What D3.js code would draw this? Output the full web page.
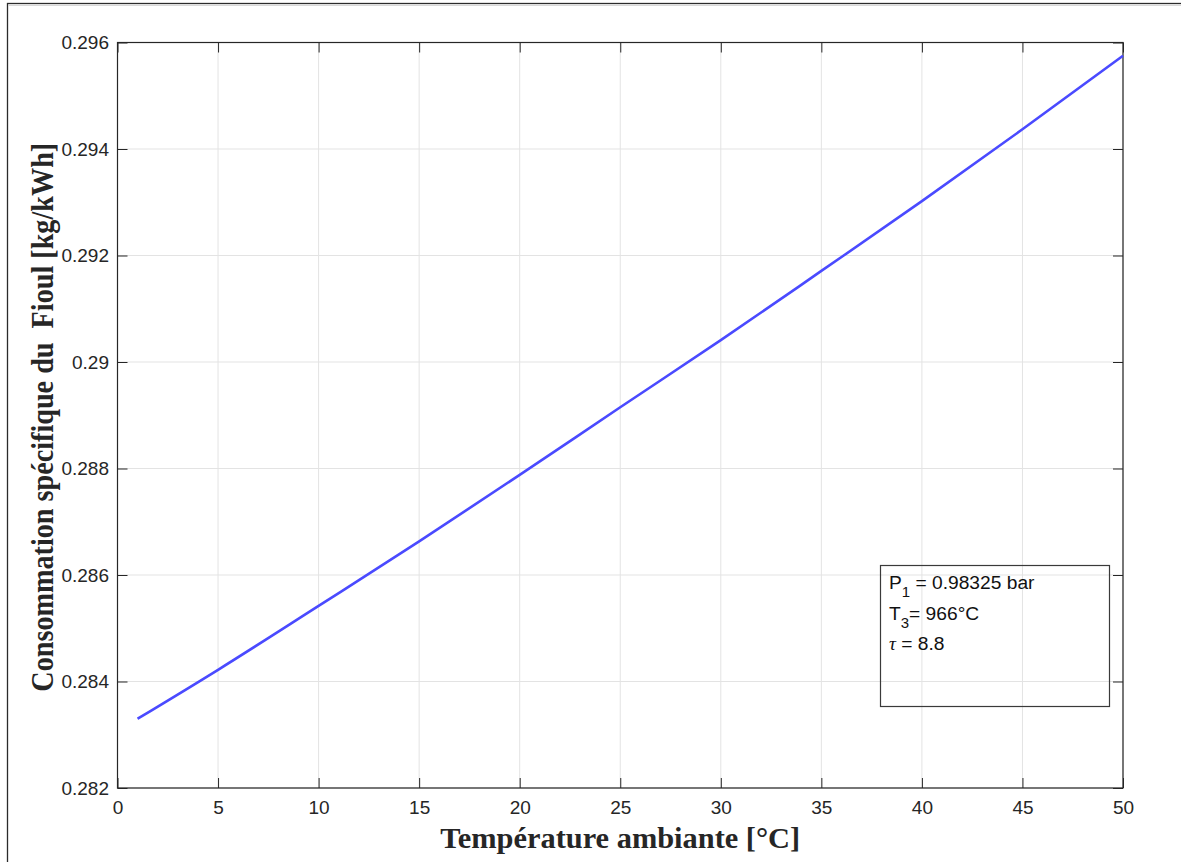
<!DOCTYPE html>
<html>
<head>
<meta charset="utf-8">
<script src="https://cdn.jsdelivr.net/npm/d3@7"></script>
<style>
  html, body { margin: 0; padding: 0; background: #fff; }
  svg { display: block; }
</style>
</head>
<body>
<svg id="chart" width="1181" height="862"></svg>
<script>
// Specific fuel consumption vs ambient temperature
const temperature = [1, 5, 10, 15, 20, 25, 30, 35, 40, 45, 50];
const consumption = [0.28330, 0.28422, 0.28542, 0.28663, 0.28788, 0.28915,
                     0.29041, 0.29171, 0.29302, 0.29437, 0.29575];

const xTicks = [0, 5, 10, 15, 20, 25, 30, 35, 40, 45, 50];
const xTickLabels = ["0", "5", "10", "15", "20", "25", "30", "35", "40", "45", "50"];
const yTicks = [0.282, 0.284, 0.286, 0.288, 0.290, 0.292, 0.294, 0.296];
const yTickLabels = ["0.282", "0.284", "0.286", "0.288", "0.29", "0.292", "0.294", "0.296"];

const xLabel = "Température ambiante [°C]";
const yLabel = "Consommation spécifique du\u00a0 Fioul [kg/kWh]";

const svg = d3.select("#chart");
const W = 1181, H = 862;

// figure frame
svg.append("rect")
  .attr("x", 7.5).attr("y", 3.5)
  .attr("width", W + 20).attr("height", H + 20)
  .attr("fill", "none").attr("stroke", "#2b2b2b").attr("stroke-width", 1.3);
svg.append("line")
  .attr("x1", 8).attr("x2", W).attr("y1", 5.5).attr("y2", 5.5)
  .attr("stroke", "#d8d8d8").attr("stroke-width", 1);

const L = 117.5, T = 42.5, R = 1123, B = 788;

const x = d3.scaleLinear().domain([0, 50]).range([L, R]);
const y = d3.scaleLinear().domain([0.282, 0.296]).range([B, T]);

const g = svg.append("g");

// grid
g.append("g").selectAll("line").data(xTicks).join("line")
  .attr("x1", d => x(d)).attr("x2", d => x(d))
  .attr("y1", T).attr("y2", B)
  .attr("stroke", "#e3e3e3").attr("stroke-width", 1);
g.append("g").selectAll("line").data(yTicks).join("line")
  .attr("x1", L).attr("x2", R)
  .attr("y1", d => y(d)).attr("y2", d => y(d))
  .attr("stroke", "#e3e3e3").attr("stroke-width", 1);

const tickFont = "Liberation Sans, Arial, sans-serif";
const axisColor = "#262626";

function styleAxis(sel) {
  sel.select(".domain").remove();
  sel.selectAll(".tick line").attr("stroke", axisColor).attr("stroke-width", 1);
  sel.selectAll(".tick text").attr("fill", axisColor)
    .attr("font-family", tickFont).attr("font-size", 19);
}

g.append("g").attr("transform", `translate(0,${B})`)
  .call(d3.axisBottom(x).tickValues(xTicks).tickSize(-10).tickSizeOuter(0).tickPadding(12.5)
    .tickFormat((d, i) => xTickLabels[i]))
  .call(styleAxis);
g.append("g").attr("transform", `translate(0,${T})`)
  .call(d3.axisTop(x).tickValues(xTicks).tickSize(-10).tickSizeOuter(0).tickFormat(""))
  .call(styleAxis);
g.append("g").attr("transform", `translate(${L},0)`)
  .call(d3.axisLeft(y).tickValues(yTicks).tickSize(-10).tickSizeOuter(0).tickPadding(8.5)
    .tickFormat((d, i) => yTickLabels[i]))
  .call(styleAxis);
g.append("g").attr("transform", `translate(${R},0)`)
  .call(d3.axisRight(y).tickValues(yTicks).tickSize(-10).tickSizeOuter(0).tickFormat(""))
  .call(styleAxis);

// plot box
g.append("rect")
  .attr("x", L).attr("y", T).attr("width", R - L).attr("height", B - T)
  .attr("fill", "none").attr("stroke", axisColor).attr("stroke-width", 1.2);

// data line
const pts = temperature.map((t, i) => [t, consumption[i]]);
g.append("path")
  .datum(pts)
  .attr("fill", "none")
  .attr("stroke", "#4a4aff")
  .attr("stroke-width", 2.6)
  .attr("d", d3.line().x(d => x(d[0])).y(d => y(d[1])).curve(d3.curveMonotoneX));

// axis titles
svg.append("text")
  .attr("x", (L + R) / 2).attr("y", 848)
  .attr("text-anchor", "middle")
  .attr("font-family", "Liberation Serif, Times New Roman, serif")
  .attr("font-weight", "bold").attr("font-size", 30.4)
  .attr("fill", "#262626")
  .text(xLabel);

svg.append("text")
  .attr("transform", `translate(53,${(T + B) / 2 + 2}) scale(1.12,1) rotate(-90)`)
  .attr("text-anchor", "middle")
  .attr("font-family", "Liberation Serif, Times New Roman, serif")
  .attr("font-weight", "bold").attr("font-size", 28.2)
  .attr("fill", "#262626")
  .text(yLabel);

// annotation box
const box = svg.append("g");
box.append("rect")
  .attr("x", 880.5).attr("y", 565.5).attr("width", 229).attr("height", 141)
  .attr("fill", "none").attr("stroke", "#3a3a3a").attr("stroke-width", 1.2);

const annFont = "Liberation Sans, Arial, sans-serif";
const annSize = 19.2, subSize = 15;
const t1 = box.append("text").attr("x", 889).attr("y", 589)
  .attr("font-family", annFont).attr("font-size", annSize).attr("fill", "#111");
t1.append("tspan").text("P");
t1.append("tspan").attr("dy", 8).attr("font-size", subSize).text("1");
t1.append("tspan").attr("dy", -8).text(" = 0.98325 bar");

const t2 = box.append("text").attr("x", 889).attr("y", 620)
  .attr("font-family", annFont).attr("font-size", annSize).attr("fill", "#111");
t2.append("tspan").text("T");
t2.append("tspan").attr("dy", 8).attr("font-size", subSize).text("3");
t2.append("tspan").attr("dy", -8).text("= 966°C");

const t3 = box.append("text").attr("x", 889).attr("y", 650)
  .attr("font-family", annFont).attr("font-size", annSize).attr("fill", "#111");
t3.append("tspan").attr("font-family", "Liberation Serif, serif").attr("font-style", "italic").text("τ");
t3.append("tspan").text(" = 8.8");
</script>
</body>
</html>
